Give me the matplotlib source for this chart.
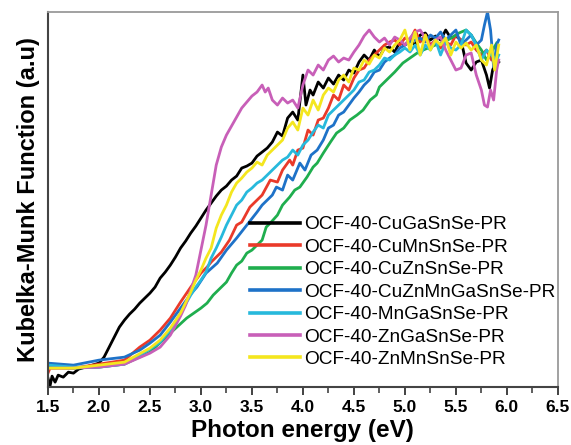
import matplotlib
matplotlib.use("Agg")
import matplotlib.pyplot as plt
from matplotlib.ticker import MultipleLocator, FormatStrFormatter

plt.rcParams['font.family'] = ['Liberation Sans', 'DejaVu Sans']

# Photon energy (eV) and Kubelka-Munk values (arbitrary units)
cugasnse_x = [1.50, 1.52, 1.54, 1.57, 1.60, 1.65, 1.70, 1.75, 1.80, 1.90, 2.00, 2.05, 2.10, 2.15, 2.20,
              2.25, 2.30, 2.35, 2.40, 2.45, 2.50, 2.55, 2.60, 2.65, 2.70, 2.75, 2.80, 2.85, 2.90, 2.95,
              3.00, 3.05, 3.10, 3.15, 3.20, 3.25, 3.30, 3.35, 3.40, 3.45, 3.50, 3.55, 3.60, 3.65, 3.70,
              3.75, 3.80, 3.85, 3.90, 3.95, 4.00, 4.03, 4.07, 4.10, 4.15, 4.20, 4.25, 4.30, 4.35, 4.40,
              4.45, 4.50, 4.55, 4.60, 4.65, 4.70, 4.75, 4.80, 4.85, 4.90, 4.95, 5.00, 5.05, 5.10, 5.15,
              5.20, 5.25, 5.30, 5.35, 5.40, 5.45, 5.50, 5.55, 5.60, 5.65, 5.70, 5.75, 5.80, 5.83, 5.86,
              5.90, 5.92]
cugasnse_y = [9, 1, 11, 5, 12, 10, 15, 14, 18, 21, 24, 30, 40, 50, 60,
              67, 73, 78, 84, 89, 94, 100, 109, 115, 122, 130, 139, 146, 154, 161,
              169, 177, 184, 191, 197, 201, 207, 211, 219, 221, 224, 231, 235, 239, 245,
              255, 251, 269, 275, 267, 312, 282, 297, 292, 305, 299, 309, 303, 312, 307,
              317, 314, 325, 332, 327, 337, 330, 339, 340, 335, 345, 342, 347, 342, 352,
              354, 347, 351, 347, 357, 349, 351, 347, 324, 317, 325, 327, 312, 299, 317,
              327, 325]

cumnsnse_x = [1.50, 1.52, 1.75, 2.00, 2.25, 2.40, 2.50, 2.60, 2.70, 2.80, 2.86, 2.90, 3.00, 3.06, 3.10,
              3.20, 3.28, 3.35, 3.40, 3.48, 3.55, 3.60, 3.68, 3.75, 3.80, 3.87, 3.90, 3.95, 4.00, 4.05,
              4.10, 4.15, 4.20, 4.25, 4.30, 4.35, 4.40, 4.45, 4.50, 4.55, 4.60, 4.65, 4.70, 4.75, 4.80,
              4.85, 4.90, 4.95, 5.00, 5.05, 5.10, 5.15, 5.20, 5.25, 5.30, 5.35, 5.40, 5.45, 5.50, 5.55,
              5.60, 5.65, 5.70, 5.75, 5.80, 5.85, 5.90]
cumnsnse_y = [14, 19, 19, 23, 27, 40, 47, 57, 69, 85, 94, 100, 114, 120, 125,
              135, 147, 162, 165, 180, 187, 192, 207, 205, 217, 227, 222, 237, 239, 257,
              252, 267, 269, 279, 292, 287, 302, 297, 309, 317, 319, 327, 332, 337, 342,
              345, 347, 342, 349, 347, 357, 345, 352, 342, 347, 339, 345, 342, 352, 347,
              342, 345, 337, 332, 337, 327, 332]

cuznsnse_x = [1.50, 1.75, 2.00, 2.25, 2.50, 2.70, 2.86, 3.00, 3.06, 3.12, 3.18, 3.25, 3.30, 3.35, 3.40,
              3.45, 3.50, 3.55, 3.60, 3.64, 3.68, 3.75, 3.80, 3.87, 3.92, 3.97, 4.04, 4.10, 4.14, 4.20,
              4.27, 4.33, 4.40, 4.46, 4.53, 4.59, 4.66, 4.72, 4.75, 4.80, 4.85, 4.90, 4.98, 5.05, 5.12,
              5.18, 5.25, 5.30, 5.37, 5.42, 5.47, 5.53, 5.60, 5.65, 5.70, 5.75, 5.80, 5.85, 5.90]
cuznsnse_y = [20, 19, 20, 23, 35, 54, 69, 79, 84, 92, 98, 105, 114, 122, 126,
              134, 137, 142, 147, 160, 164, 172, 182, 190, 197, 200, 210, 220, 224, 234,
              245, 254, 259, 267, 272, 277, 287, 292, 300, 305, 310, 315, 324, 329, 334,
              337, 340, 342, 344, 347, 350, 354, 357, 352, 344, 337, 327, 335, 344]

cuznmngasnse_x = [1.50, 1.75, 2.00, 2.25, 2.40, 2.50, 2.60, 2.70, 2.80, 2.90, 2.96, 3.05, 3.16, 3.25, 3.35,
                  3.45, 3.55, 3.60, 3.65, 3.70, 3.74, 3.80, 3.85, 3.90, 3.97, 4.02, 4.08, 4.14, 4.20, 4.25,
                  4.30, 4.35, 4.40, 4.45, 4.50, 4.55, 4.60, 4.65, 4.70, 4.75, 4.80, 4.85, 4.90, 4.95, 5.00,
                  5.05, 5.10, 5.15, 5.20, 5.25, 5.30, 5.35, 5.40, 5.45, 5.50, 5.55, 5.60, 5.65, 5.70, 5.75,
                  5.78, 5.81, 5.84, 5.87, 5.90, 5.92]
cuznmngasnse_y = [24, 22, 27, 30, 37, 44, 52, 65, 79, 93, 100, 114, 124, 137, 149,
                  162, 175, 182, 187, 192, 200, 197, 212, 207, 224, 217, 232, 237, 247, 259,
                  262, 272, 275, 282, 289, 295, 302, 307, 315, 317, 325, 329, 332, 339, 342,
                  345, 347, 349, 345, 352, 349, 355, 347, 352, 357, 342, 347, 352, 342, 347,
                  362, 375, 357, 320, 342, 347]

mngasnse_x = [1.50, 1.75, 2.00, 2.25, 2.50, 2.60, 2.70, 2.80, 2.90, 2.95, 3.00, 3.05, 3.10, 3.15, 3.20,
              3.25, 3.30, 3.35, 3.40, 3.45, 3.50, 3.55, 3.60, 3.65, 3.70, 3.75, 3.80, 3.85, 3.90, 3.95,
              4.00, 4.05, 4.10, 4.15, 4.20, 4.25, 4.30, 4.35, 4.40, 4.45, 4.50, 4.55, 4.60, 4.65, 4.70,
              4.75, 4.80, 4.85, 4.90, 4.95, 5.00, 5.05, 5.10, 5.15, 5.20, 5.25, 5.30, 5.35, 5.40, 5.45,
              5.50, 5.55, 5.60, 5.65, 5.70, 5.75, 5.80, 5.85, 5.90, 5.92]
mngasnse_y = [22, 20, 20, 23, 38, 45, 57, 74, 92, 100, 107, 115, 129, 139, 150,
              162, 172, 182, 187, 195, 199, 204, 207, 212, 217, 222, 227, 230, 237, 232,
              242, 247, 255, 262, 259, 272, 277, 282, 287, 292, 297, 305, 307, 315, 317,
              322, 329, 327, 332, 335, 339, 335, 342, 332, 342, 337, 347, 332, 345, 339,
              337, 342, 357, 352, 342, 327, 337, 332, 327, 332]

zngasnse_x = [1.50, 1.70, 2.00, 2.25, 2.50, 2.60, 2.70, 2.80, 2.85, 2.90, 2.95, 3.00, 3.05, 3.10, 3.15,
              3.20, 3.25, 3.30, 3.35, 3.40, 3.45, 3.50, 3.55, 3.60, 3.63, 3.66, 3.70, 3.75, 3.80, 3.85,
              3.90, 3.95, 4.00, 4.05, 4.10, 4.15, 4.20, 4.25, 4.30, 4.35, 4.40, 4.45, 4.50, 4.55, 4.60,
              4.65, 4.70, 4.75, 4.80, 4.85, 4.90, 4.95, 5.00, 5.05, 5.10, 5.15, 5.20, 5.25, 5.30, 5.35,
              5.40, 5.45, 5.50, 5.55, 5.60, 5.65, 5.70, 5.75, 5.78, 5.81, 5.84, 5.87, 5.90, 5.92]
zngasnse_y = [19, 19, 20, 23, 34, 40, 52, 71, 82, 97, 112, 137, 162, 192, 222,
              240, 252, 261, 270, 279, 285, 291, 295, 302, 295, 299, 287, 282, 289, 284,
              287, 279, 302, 317, 312, 322, 317, 327, 331, 325, 329, 327, 335, 342, 351,
              357, 350, 345, 349, 342, 350, 347, 342, 349, 355, 357, 349, 340, 347, 350,
              337, 327, 317, 319, 332, 334, 312, 297, 282, 280, 297, 287, 317, 327]

znmnsnse_x = [1.50, 1.75, 2.00, 2.25, 2.50, 2.60, 2.70, 2.80, 2.90, 2.95, 3.00, 3.05, 3.10, 3.15, 3.20,
              3.25, 3.30, 3.35, 3.40, 3.45, 3.50, 3.55, 3.60, 3.65, 3.70, 3.75, 3.80, 3.85, 3.90, 3.95,
              4.00, 4.05, 4.10, 4.15, 4.20, 4.25, 4.30, 4.35, 4.40, 4.45, 4.50, 4.55, 4.60, 4.65, 4.70,
              4.75, 4.80, 4.85, 4.90, 4.95, 5.00, 5.05, 5.10, 5.15, 5.20, 5.25, 5.30, 5.35, 5.40, 5.45,
              5.50, 5.55, 5.60, 5.65, 5.70, 5.75, 5.80, 5.85, 5.88, 5.92]
znmnsnse_y = [19, 19, 22, 25, 39, 47, 59, 74, 95, 107, 117, 129, 139, 159, 172,
              182, 195, 204, 209, 215, 219, 225, 222, 232, 237, 242, 247, 259, 265, 257,
              279, 272, 287, 277, 292, 299, 295, 307, 312, 305, 319, 317, 327, 323, 332,
              329, 339, 335, 342, 347, 357, 337, 355, 332, 352, 337, 347, 342, 349, 332,
              345, 339, 344, 337, 342, 327, 322, 342, 317, 342]

labels = ['OCF-40-CuGaSnSe-PR', 'OCF-40-CuMnSnSe-PR', 'OCF-40-CuZnSnSe-PR',
          'OCF-40-CuZnMnGaSnSe-PR', 'OCF-40-MnGaSnSe-PR', 'OCF-40-ZnGaSnSe-PR',
          'OCF-40-ZnMnSnSe-PR']
colors = ['#000000', '#ea3a2a', '#1fae4e', '#1e72c8', '#27b9dc', '#c85fb8', '#f4e61e']
xs = [cugasnse_x, cumnsnse_x, cuznsnse_x, cuznmngasnse_x, mngasnse_x, zngasnse_x, znmnsnse_x]
ys = [cugasnse_y, cumnsnse_y, cuznsnse_y, cuznmngasnse_y, mngasnse_y, zngasnse_y, znmnsnse_y]

fig = plt.figure(figsize=(5.71, 4.45), dpi=100)
ax = fig.add_axes([0.084, 0.130, 0.893, 0.843])

for x, y, c, lab in zip(xs, ys, colors, labels):
    ax.plot(x, y, color=c, lw=2.0, label=lab)

ax.set_xlim(1.5, 6.5)
ax.set_ylim(0, 375)
ax.xaxis.set_major_locator(MultipleLocator(0.5))
ax.xaxis.set_minor_locator(MultipleLocator(0.25))
ax.xaxis.set_major_formatter(FormatStrFormatter('%.1f'))
ax.set_yticks([])
ax.tick_params(axis='x', which='major', direction='out', length=6, width=1.3,
               labelsize=12.5, pad=3, color='#333333')
ax.tick_params(axis='x', which='minor', direction='out', length=4, width=1.1, color='#333333')
for lab in ax.get_xticklabels():
    lab.set_fontweight('bold')

for s in ['left', 'bottom']:
    ax.spines[s].set_color('#444444')
    ax.spines[s].set_linewidth(1.5)
for s in ['top', 'right']:
    ax.spines[s].set_color('#9a9a9a')
    ax.spines[s].set_linewidth(1.3)

ax.set_xlabel('Photon energy (eV)', fontsize=17.5, fontweight='bold', labelpad=3)
ax.set_ylabel('Kubelka-Munk Function (a.u)', fontsize=17, fontweight='bold', labelpad=6)

leg = ax.legend(loc='upper left', bbox_to_anchor=(0.396, 0.456), frameon=False,
                fontsize=13.7, handlelength=2.65, handletextpad=0.2, labelspacing=0.27,
                borderaxespad=0, borderpad=0)
for h in leg.get_lines():
    h.set_linewidth(2.6)

fig.savefig('out.png', dpi=100)
